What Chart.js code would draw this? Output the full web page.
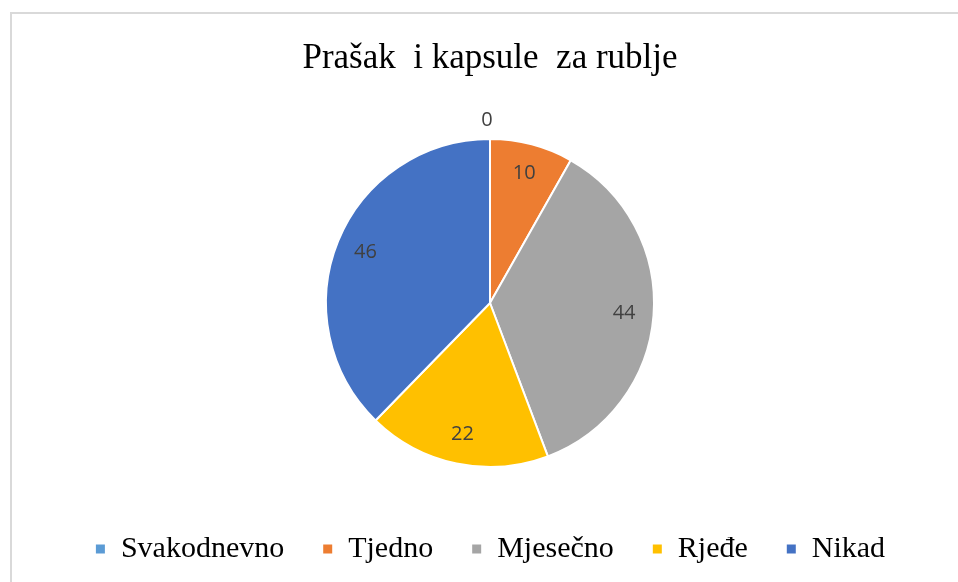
<!DOCTYPE html>
<html>
<head>
<meta charset="utf-8">
<script src="https://cdn.jsdelivr.net/npm/chart.js@4/dist/chart.umd.min.js"></script>
<style>
  html, body { margin: 0; padding: 0; background: #ffffff; overflow: hidden; }
  #frame { position: absolute; left: 10px; top: 12px; width: 2000px; height: 2000px;
           border-left: 2px solid #d9d9d9; border-top: 2px solid #d9d9d9; }
  #wrap { position: absolute; left: 0; top: 0; width: 958px; height: 582px; }
</style>
</head>
<body>
<div id="frame"></div>
<div id="wrap"><canvas id="c" width="958" height="582"></canvas></div>
<script>
const title = 'Prašak  i kapsule  za rublje';
const categories = ['Svakodnevno', 'Tjedno', 'Mjesečno', 'Rjeđe', 'Nikad'];
const values = [0, 10, 44, 22, 46];
const colors = ['#5B9BD5', '#ED7D31', '#A5A5A5', '#FFC000', '#4472C4'];

const valueLabels = {
  id: 'valueLabels',
  afterDatasetsDraw(chart) {
    const ctx = chart.ctx;
    const meta = chart.getDatasetMeta(0);
    ctx.save();
    ctx.font = '20px "Open Sans", "Liberation Sans", sans-serif';
    ctx.fillStyle = '#404040';
    ctx.textAlign = 'center';
    ctx.textBaseline = 'middle';
    meta.data.forEach((arc, i) => {
      const p = arc.getProps(['x', 'y', 'startAngle', 'endAngle', 'outerRadius'], true);
      const mid = (p.startAngle + p.endAngle) / 2;
      const v = chart.data.datasets[0].data[i];
      const r = v === 0 ? p.outerRadius + 19 : p.outerRadius * 0.82;
      ctx.fillText(String(v), p.x + Math.cos(mid) * r - (v === 0 ? 3 : 0), p.y + Math.sin(mid) * r);
    });
    ctx.restore();
  }
};

new Chart(document.getElementById('c'), {
  type: 'pie',
  data: {
    labels: categories,
    datasets: [{
      data: values,
      backgroundColor: colors,
      borderColor: '#ffffff',
      borderWidth: 2
    }]
  },
  options: {
    responsive: false,
    animation: false,
    radius: 164,
    layout: { padding: { left: 22, right: 0, top: 0, bottom: 8 } },
    plugins: {
      title: {
        display: true,
        text: title,
        color: '#000000',
        font: { family: '"Liberation Serif", "Times New Roman", serif', size: 35, weight: 'normal', lineHeight: 1.2 },
        padding: { top: 38, bottom: 30 }
      },
      legend: {
        position: 'bottom',
        labels: {
          color: '#000000',
          boxWidth: 11,
          boxHeight: 11,
          padding: 38,
          font: { family: '"Liberation Serif", "Times New Roman", serif', size: 30 }
        }
      },
      tooltip: { enabled: false }
    }
  },
  plugins: [valueLabels]
});
</script>
</body>
</html>
